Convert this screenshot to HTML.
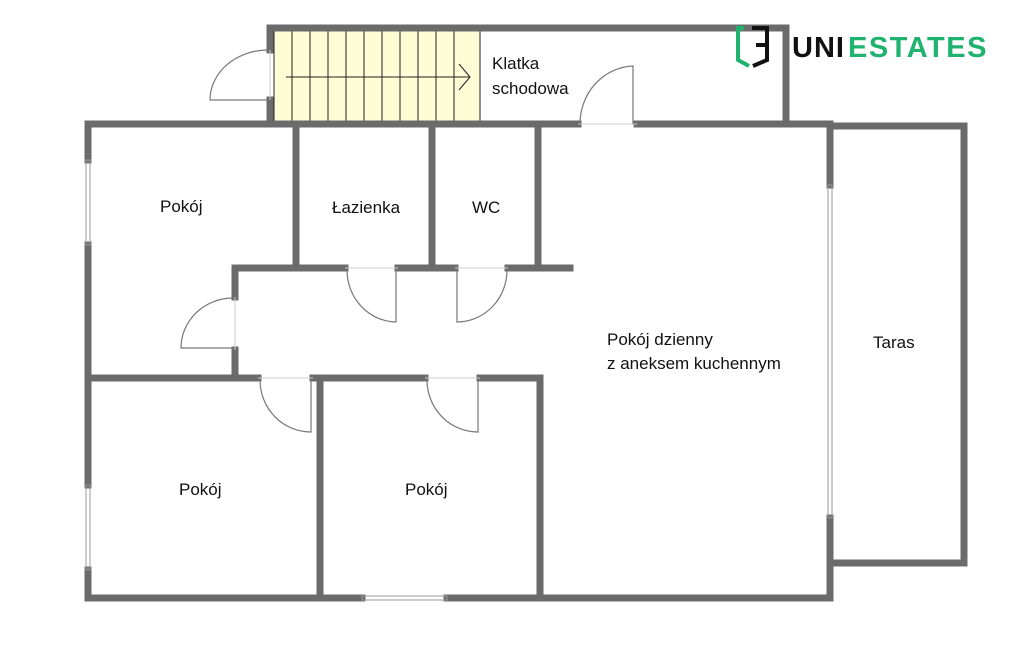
<!DOCTYPE html>
<html><head><meta charset="utf-8"><style>
body{margin:0;background:#fff;width:1024px;height:651px;overflow:hidden}
text{font-family:"Liberation Sans",sans-serif;font-size:17px;fill:#111}
</style></head><body>
<svg width="1024" height="651" viewBox="0 0 1024 651" xmlns="http://www.w3.org/2000/svg">
<rect x="274" y="31" width="206" height="90" fill="#fdfdd6" stroke="#222" stroke-width="1"/>
<g stroke="#222" stroke-width="1">
<line x1="292" y1="31" x2="292" y2="121"/><line x1="310" y1="31" x2="310" y2="121"/>
<line x1="328" y1="31" x2="328" y2="121"/><line x1="346" y1="31" x2="346" y2="121"/>
<line x1="364" y1="31" x2="364" y2="121"/><line x1="382" y1="31" x2="382" y2="121"/>
<line x1="400" y1="31" x2="400" y2="121"/><line x1="418" y1="31" x2="418" y2="121"/>
<line x1="436" y1="31" x2="436" y2="121"/><line x1="454" y1="31" x2="454" y2="121"/>
<line x1="286" y1="77" x2="470" y2="77"/>
<polyline points="459,64 470,77 459,90" fill="none"/>
</g>
<g stroke="#6b6b6b" stroke-width="7" fill="none" stroke-linecap="square">
<path d="M270 124 V100 M270 50 V28 H786 V124"/>
<path d="M88 124 H578 M637 124 H830"/>
<path d="M88 124 V160 M88 245 V485 M88 570 V598 H362 M447 598 H830 V518 M830 185 V124"/>
<path d="M834 126 H964 V563 H834"/>
<path d="M296 124 V268 M432 124 V268 M538 124 V268"/>
<path d="M235 268 H345 M398 268 H455 M508 268 H570"/>
<path d="M235 268 V297 M235 350 V378"/>
<path d="M88 378 H258 M313 378 H425 M480 378 H540 V598"/>
<path d="M320 378 V598"/>
</g>
<g stroke="#999" stroke-width="1" fill="none">
<rect x="86" y="160" width="4" height="85"/>
<rect x="86" y="485" width="4" height="85"/>
<rect x="828" y="185" width="4" height="333"/>
<rect x="362" y="596" width="85" height="4"/>
<line x1="578" y1="124" x2="637" y2="124" stroke="#ccc"/>
<line x1="345" y1="268" x2="398" y2="268" stroke="#ccc"/>
<line x1="455" y1="268" x2="508" y2="268" stroke="#ccc"/>
<line x1="235" y1="297" x2="235" y2="350" stroke="#ccc"/>
<line x1="258" y1="378" x2="313" y2="378" stroke="#ccc"/>
<line x1="425" y1="378" x2="480" y2="378" stroke="#ccc"/>
<line x1="270" y1="50" x2="270" y2="100" stroke="#ccc"/>
</g>
<g stroke="#777" stroke-width="1.2" fill="none">
<path d="M268 100 H210 A58 50 0 0 1 268 50"/>
<path d="M633 124 V66 A55 58 0 0 0 580 124"/>
<path d="M396 270 V322 A50 52 0 0 1 347 270"/>
<path d="M457 270 V322 A50 52 0 0 0 507 270"/>
<path d="M233 348 H181 A52 50 0 0 1 233 298"/>
<path d="M311 380 V432 A51 52 0 0 1 260 380"/>
<path d="M478 380 V432 A51 52 0 0 1 427 380"/>
</g>
<text x="492" y="69">Klatka</text>
<text x="492" y="94">schodowa</text>
<text x="160" y="212">Pokój</text>
<text x="332" y="213">Łazienka</text>
<text x="472" y="213">WC</text>
<text x="607" y="345">Pokój dzienny</text>
<text x="607" y="369">z aneksem kuchennym</text>
<text x="873" y="348">Taras</text>
<text x="179" y="495">Pokój</text>
<text x="405" y="495">Pokój</text>
<path d="M744 28 H738 V60 L749 66" stroke="#1fb36f" stroke-width="4" fill="none"/>
<path d="M752 28 H767 V60 L753 66" stroke="#111" stroke-width="4" fill="none"/>
<line x1="756" y1="45" x2="767" y2="45" stroke="#111" stroke-width="4"/>
<text x="792" y="57" style="font-size:29px;font-weight:bold;fill:#111;letter-spacing:1px">UNI</text>
<text x="848" y="57" style="font-size:29px;font-weight:bold;fill:#1fb36f;letter-spacing:1.5px">ESTATES</text>
</svg>
</body></html>
